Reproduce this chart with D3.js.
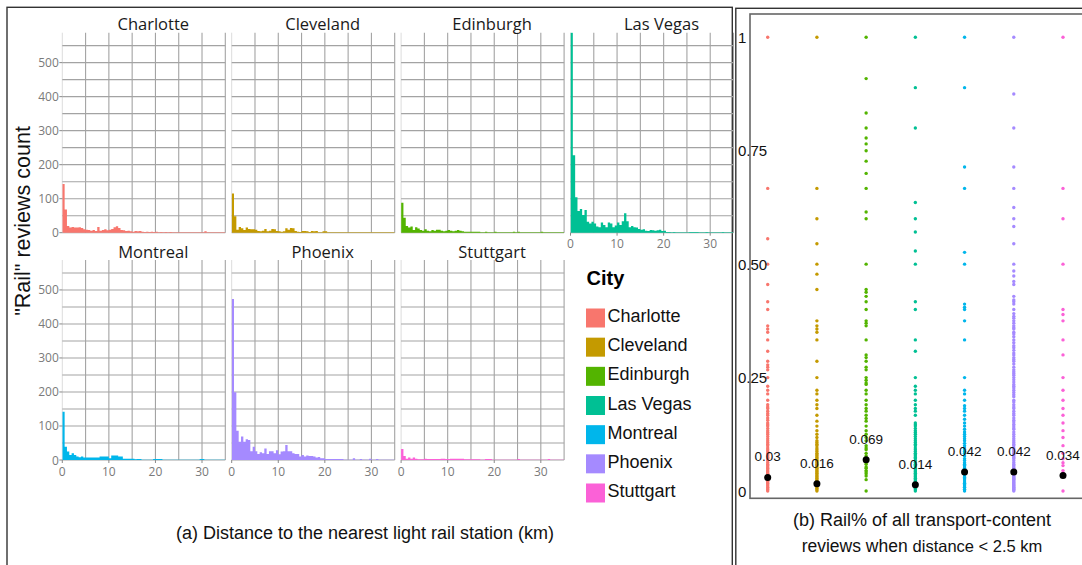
<!DOCTYPE html>
<html><head><meta charset="utf-8">
<script src="https://cdn.jsdelivr.net/npm/d3@7"></script>
<style>html,body{margin:0;padding:0;background:#fff;} svg{display:block;}</style>
</head><body>
<svg id="chart" width="1082" height="565"></svg>
<script>
// ---- data ----
const cities = ["Charlotte", "Cleveland", "Edinburgh", "Las Vegas", "Montreal", "Phoenix", "Stuttgart"];
const cityColors = ["#F8766D", "#C49A00", "#53B400", "#00C094", "#00B6EB", "#A58AFF", "#FB61D7"];

// "Rail" review counts in 0.5 km distance bins, 0–35 km
const binWidthKm = 0.5;
const countsCharlotte = [143, 68, 20, 15, 17, 15, 15, 16, 14, 10, 9, 8, 6, 8, 5, 17, 6, 8, 10, 7, 9, 11, 16, 19, 14, 8, 7, 5, 6, 4, 3, 5, 4, 5, 3, 2, 3, 2, 3, 2, 3, 1, 2, 1, 2, 1, 2, 1, 1, 1, 1, 1, 1, 1, 1, 1, 1, 1, 1, 1, 1, 4, 1, 1, 1, 1, 1, 1, 1, 1];
const countsCleveland = [115, 48, 9, 17, 13, 8, 15, 11, 10, 10, 9, 5, 4, 6, 11, 4, 6, 11, 10, 5, 4, 3, 4, 13, 9, 14, 13, 5, 3, 2, 5, 5, 4, 2, 5, 4, 5, 1, 1, 4, 4, 1, 1, 1, 1, 1, 1, 1, 1, 1, 1, 1, 1, 1, 1, 1, 1, 1, 1, 1, 1, 1, 1, 1, 1, 1, 1, 1, 1, 1];
const countsEdinburgh = [88, 44, 20, 15, 18, 8, 16, 12, 8, 6, 10, 6, 4, 8, 6, 9, 9, 6, 4, 6, 8, 6, 4, 6, 8, 6, 4, 3, 3, 3, 3, 3, 3, 3, 1, 1, 3, 1, 1, 1, 3, 1, 1, 1, 1, 1, 1, 1, 3, 1, 3, 1, 1, 1, 1, 1, 1, 1, 1, 1, 3, 1, 1, 1, 1, 1, 1, 1, 1, 1];
const countsLasVegas = [589, 228, 104, 64, 70, 52, 67, 32, 27, 32, 27, 18, 16, 30, 23, 16, 30, 27, 16, 21, 30, 23, 34, 57, 34, 16, 20, 16, 15, 11, 9, 10, 6, 5, 8, 7, 6, 7, 9, 5, 6, 2, 2, 1, 2, 1, 1, 1, 1, 1, 1, 2, 2, 2, 2, 1, 1, 1, 2, 1, 1, 1, 1, 1, 1, 2, 1, 1, 1, 1];
const countsMontreal = [142, 39, 25, 15, 20, 15, 10, 8, 10, 7, 7, 7, 7, 7, 7, 7, 10, 10, 10, 10, 5, 13, 13, 13, 10, 10, 4, 4, 4, 4, 4, 2, 3, 3, 1, 1, 1, 1, 1, 3, 3, 3, 3, 1, 1, 1, 1, 1, 1, 1, 1, 1, 1, 1, 1, 1, 1, 1, 1, 3, 3, 1, 1, 1, 1, 1, 1, 1, 1, 1];
const countsPhoenix = [473, 199, 86, 54, 69, 54, 61, 59, 26, 39, 26, 18, 23, 20, 34, 18, 26, 26, 20, 29, 17, 25, 26, 44, 26, 26, 20, 18, 18, 10, 15, 10, 13, 12, 12, 10, 7, 9, 5, 5, 3, 3, 3, 3, 3, 3, 3, 3, 1, 1, 1, 1, 5, 1, 1, 3, 1, 1, 1, 4, 1, 1, 3, 1, 1, 1, 1, 1, 1, 1];
const countsStuttgart = [32, 12, 4, 7, 4, 7, 4, 2, 2, 2, 4, 3, 3, 3, 3, 3, 3, 4, 4, 3, 3, 4, 4, 4, 4, 4, 4, 2, 2, 2, 2, 2, 2, 2, 1, 1, 3, 3, 3, 1, 1, 1, 1, 1, 1, 1, 1, 1, 1, 1, 3, 1, 1, 1, 1, 1, 1, 1, 1, 1, 1, 1, 1, 3, 1, 1, 1, 1, 1, 1];
const histCounts = [countsCharlotte, countsCleveland, countsEdinburgh, countsLasVegas, countsMontreal, countsPhoenix, countsStuttgart];
const histMaxKm = 35;
const histMaxCount = 588;
const histTicksY = [0, 100, 200, 300, 400, 500];
const histTicksX = [0, 10, 20, 30];

// Rail share of transport-content reviews per business (distance < 2.5 km)
const shareCharlotte = [1, 0.667, 0.556, 0.5, 0.455, 0.417, 0.4, 0.364, 0.357, 0.35, 0.333, 0.308, 0.286, 0.278, 0.273, 0.267, 0.25, 0.231, 0.222, 0.214, 0.2, 0.19, 0.185, 0.182, 0.176, 0.171, 0.167, 0.161, 0.156, 0.15, 0.146, 0.143, 0.138, 0.133, 0.129, 0.125, 0.12, 0.115, 0.111, 0.107, 0.103, 0.1, 0.095, 0.091, 0.087, 0.083, 0.08, 0.077, 0.074, 0.071, 0.067, 0.063, 0.059, 0.056, 0.053, 0.05, 0.047, 0.044, 0.042, 0.039, 0.036, 0.033, 0.031, 0.028, 0.025, 0.022, 0.02, 0.017, 0.014, 0.011, 0.008, 0.005, 0.003, 0];
const shareCleveland = [1, 0.667, 0.6, 0.545, 0.5, 0.478, 0.444, 0.375, 0.364, 0.357, 0.35, 0.333, 0.286, 0.25, 0.222, 0.214, 0.2, 0.19, 0.182, 0.167, 0.154, 0.143, 0.133, 0.125, 0.118, 0.111, 0.107, 0.103, 0.1, 0.095, 0.091, 0.087, 0.083, 0.08, 0.077, 0.074, 0.071, 0.068, 0.065, 0.062, 0.059, 0.056, 0.053, 0.05, 0.047, 0.044, 0.042, 0.039, 0.036, 0.033, 0.031, 0.028, 0.025, 0.022, 0.02, 0.017, 0.014, 0.011, 0.009, 0.006, 0.003, 0];
const shareEdinburgh = [1, 0.909, 0.833, 0.8, 0.778, 0.765, 0.75, 0.727, 0.7, 0.667, 0.615, 0.6, 0.5, 0.444, 0.438, 0.429, 0.417, 0.4, 0.375, 0.37, 0.364, 0.333, 0.3, 0.294, 0.286, 0.273, 0.267, 0.25, 0.244, 0.238, 0.235, 0.222, 0.214, 0.2, 0.19, 0.182, 0.176, 0.167, 0.16, 0.154, 0.143, 0.133, 0.125, 0.118, 0.111, 0.1, 0.095, 0.091, 0.083, 0.077, 0.071, 0.067, 0.0625, 0.059, 0.053, 0.05, 0.045, 0.042, 0.038, 0.033, 0.025, 0];
const shareLasVegas = [1, 0.889, 0.8, 0.636, 0.6, 0.571, 0.529, 0.5, 0.417, 0.4, 0.333, 0.308, 0.25, 0.231, 0.222, 0.214, 0.2, 0.19, 0.182, 0.176, 0.167, 0.15, 0.146, 0.143, 0.138, 0.133, 0.129, 0.125, 0.12, 0.115, 0.111, 0.107, 0.103, 0.1, 0.095, 0.091, 0.087, 0.083, 0.08, 0.077, 0.074, 0.071, 0.067, 0.063, 0.059, 0.056, 0.053, 0.05, 0.047, 0.044, 0.042, 0.039, 0.036, 0.033, 0.031, 0.028, 0.025, 0.022, 0.02, 0.017, 0.014, 0.011, 0.009, 0.006, 0.003, 0];
const shareMontreal = [1, 0.889, 0.714, 0.667, 0.526, 0.5, 0.412, 0.405, 0.4, 0.375, 0.333, 0.25, 0.222, 0.214, 0.2, 0.188, 0.182, 0.176, 0.167, 0.158, 0.15, 0.143, 0.136, 0.13, 0.125, 0.12, 0.115, 0.111, 0.105, 0.1, 0.095, 0.091, 0.087, 0.083, 0.077, 0.071, 0.067, 0.0625, 0.059, 0.056, 0.053, 0.05, 0.045, 0.04, 0.036, 0.033, 0.03, 0.027, 0.024, 0.02, 0.017, 0.014, 0.011, 0.008, 0.004, 0];
const sharePhoenix = [1, 0.875, 0.8, 0.714, 0.667, 0.625, 0.6, 0.583, 0.545, 0.5, 0.485, 0.474, 0.462, 0.455, 0.429, 0.421, 0.417, 0.412, 0.4, 0.391, 0.385, 0.381, 0.375, 0.37, 0.364, 0.36, 0.357, 0.35, 0.346, 0.34, 0.333, 0.327, 0.32, 0.316, 0.31, 0.304, 0.3, 0.294, 0.29, 0.286, 0.28, 0.273, 0.267, 0.263, 0.259, 0.255, 0.25, 0.245, 0.24, 0.235, 0.231, 0.227, 0.222, 0.217, 0.212, 0.208, 0.2, 0.196, 0.19, 0.185, 0.182, 0.176, 0.171, 0.167, 0.161, 0.156, 0.152, 0.147, 0.143, 0.139, 0.136, 0.13, 0.125, 0.12, 0.115, 0.111, 0.107, 0.103, 0.1, 0.095, 0.091, 0.087, 0.083, 0.08, 0.077, 0.074, 0.071, 0.067, 0.063, 0.059, 0.056, 0.053, 0.05, 0.048, 0.045, 0.043, 0.04, 0.037, 0.034, 0.032, 0.03, 0.028, 0.026, 0.024, 0.022, 0.02, 0.018, 0.016, 0.014, 0.012, 0.01, 0.008, 0.006, 0.004, 0.002, 0];
const shareStuttgart = [1, 0.667, 0.6, 0.5, 0.4, 0.389, 0.375, 0.333, 0.3, 0.25, 0.222, 0.2, 0.182, 0.167, 0.15, 0.133, 0.118, 0.1, 0.083, 0.071, 0.0625, 0.056, 0.045, 0.04, 0];
const shareValues = [shareCharlotte, shareCleveland, shareEdinburgh, shareLasVegas, shareMontreal, sharePhoenix, shareStuttgart];
const shareMeans = [0.03, 0.016, 0.069, 0.014, 0.042, 0.042, 0.034];
const shareMeanLabels = ["0.03", "0.016", "0.069", "0.014", "0.042", "0.042", "0.034"];
const shareTicks = [0, 0.25, 0.5, 0.75, 1];
const shareTickLabels = ["0", "0.25", "0.50", "0.75", "1"];

// ---- drawing ----
const svg = d3.select("#chart");
const sansUI = "'Open Sans', 'Noto Sans', sans-serif";
const arial = "'Liberation Sans', Arial, sans-serif";

// outer frames of the two sub-figures
svg.append("rect").attr("x", 7).attr("y", 7.3).attr("width", 725.3).attr("height", 600)
  .attr("fill", "none").attr("stroke", "#333").attr("stroke-width", 1.4);
svg.append("rect").attr("x", 735.8).attr("y", 8.3).attr("width", 400).attr("height", 600)
  .attr("fill", "none").attr("stroke", "#333").attr("stroke-width", 1.4);

// ---------- (a) faceted histograms ----------
const facet = { left: 62.3, width: 163, colStep: 169.4, zero0: 232.7, rowStep: 227.3, height: 200, cols: 4 };
const gridColor = "#a3a3a3";
const tickTextColor = "#7a7a7a";

const defs = svg.append("defs");

cities.forEach((city, i) => {
  const col = i % facet.cols, row = Math.floor(i / facet.cols);
  const x0 = facet.left + col * facet.colStep;
  const zeroY = facet.zero0 + row * facet.rowStep;
  const x = d3.scaleLinear().domain([0, histMaxKm]).range([x0, x0 + facet.width]);
  const y = d3.scaleLinear().domain([0, histMaxCount]).range([zeroY, zeroY - facet.height]);
  const g = svg.append("g").attr("class", "facet");

  // grid
  g.append("line").attr("x1", x(0)).attr("x2", x(0)).attr("y1", y(histMaxCount)).attr("y2", y(0))
    .attr("stroke", "#dcdcdc").attr("stroke-width", 1);
  g.selectAll("line.vg").data(d3.range(5, histMaxKm + 0.1, 5)).join("line").attr("class", "vg")
    .attr("x1", d => x(d)).attr("x2", d => x(d)).attr("y1", y(histMaxCount)).attr("y2", y(0))
    .attr("stroke", gridColor).attr("stroke-width", 1.1);
  g.selectAll("line.hg").data(d3.range(0, 551, 50)).join("line").attr("class", "hg")
    .attr("x1", x(0)).attr("x2", x(histMaxKm)).attr("y1", d => y(d)).attr("y2", d => y(d))
    .attr("stroke", gridColor).attr("stroke-width", 1.1);

  // histogram bars as one stepped shape (bin k covers [k*w, (k+1)*w))
  const counts = histCounts[i];
  const steps = counts.map((c, k) => ({ km: k * binWidthKm, c }));
  steps.push({ km: counts.length * binWidthKm, c: counts[counts.length - 1] });
  const area = d3.area().curve(d3.curveStepAfter)
    .x(d => x(d.km)).y0(y(0)).y1(d => y(d.c));
  const clipId = "clip" + i;
  defs.append("clipPath").attr("id", clipId).append("rect")
    .attr("x", x(0)).attr("y", y(histMaxCount)).attr("width", facet.width).attr("height", facet.height + 1);
  g.append("path").attr("clip-path", `url(#${clipId})`)
    .attr("d", area(steps)).attr("fill", cityColors[i]);

  // strip title
  g.append("text").attr("x", x0 + facet.width / 2 + 9.5).attr("y", y(histMaxCount) - 9)
    .attr("text-anchor", "middle").attr("dominant-baseline", "central")
    .attr("font-family", sansUI).attr("font-size", 16.5).attr("fill", "#1a1a1a").text(city);

  // y axis (first column only)
  if (col === 0) {
    const ya = g.append("g").attr("class", "yaxis");
    ya.selectAll("line").data(histTicksY).join("line")
      .attr("x1", x0 - 3).attr("x2", x0).attr("y1", d => y(d)).attr("y2", d => y(d))
      .attr("stroke", "#888").attr("stroke-width", 1);
    ya.selectAll("text").data(histTicksY).join("text")
      .attr("x", x0 - 3.5).attr("y", d => y(d)).attr("text-anchor", "end").attr("dominant-baseline", "central")
      .attr("font-family", sansUI).attr("font-size", 12).attr("fill", tickTextColor).text(d => d);
  }
  // x axis on panels with nothing below
  if (i + facet.cols >= cities.length) {
    const xa = g.append("g").attr("class", "xaxis");
    xa.selectAll("line").data(histTicksX).join("line")
      .attr("x1", d => x(d)).attr("x2", d => x(d)).attr("y1", y(0)).attr("y2", y(0) + 3)
      .attr("stroke", "#888").attr("stroke-width", 1);
    xa.selectAll("text").data(histTicksX).join("text")
      .attr("x", d => x(d)).attr("y", y(0) + 11).attr("text-anchor", "middle").attr("dominant-baseline", "central")
      .attr("font-family", sansUI).attr("font-size", 12).attr("fill", tickTextColor).text(d => d);
  }
});

// axis titles of (a)
svg.append("text").attr("transform", "translate(23,221) rotate(-90)")
  .attr("text-anchor", "middle").attr("dominant-baseline", "central")
  .attr("font-family", arial).attr("font-size", 21.5).attr("fill", "#111").text('"Rail" reviews count');
svg.append("text").attr("x", 365).attr("y", 533).attr("text-anchor", "middle").attr("dominant-baseline", "central")
  .attr("font-family", arial).attr("font-size", 18).attr("fill", "#111")
  .text("(a) Distance to the nearest light rail station (km)");

// legend
const legend = svg.append("g").attr("class", "legend");
legend.append("text").attr("x", 586.5).attr("y", 285).attr("font-family", arial)
  .attr("font-weight", "bold").attr("font-size", 20).attr("fill", "#000").text("City");
const legendY = d3.scalePoint().domain(cities).range([318, 493]);
legend.selectAll("rect").data(cities).join("rect")
  .attr("x", 586).attr("y", d => legendY(d) - 9.5).attr("width", 19).attr("height", 19)
  .attr("fill", (d, i) => cityColors[i]);
legend.selectAll("text.item").data(cities).join("text").attr("class", "item")
  .attr("x", 607.5).attr("y", d => legendY(d) - 2).attr("dominant-baseline", "central")
  .attr("font-family", arial).attr("font-size", 18).attr("fill", "#111").text(d => d);

// ---------- (b) strip plot of rail share ----------
const plotB = { left: 750, top: 14, bottom: 498.3 };
const yB = d3.scaleLinear().domain([0, 1]).range([491, 37.3]);
const xB = d3.scalePoint().domain(cities).range([767.7, 1063]);

svg.append("rect").attr("x", plotB.left).attr("y", plotB.top).attr("width", 400).attr("height", plotB.bottom - plotB.top)
  .attr("fill", "none").attr("stroke", "#666").attr("stroke-width", 1.6);

const gb = svg.append("g").attr("class", "strip");
cities.forEach((city, i) => {
  gb.append("g").selectAll("circle").data(shareValues[i]).join("circle")
    .attr("cx", xB(city)).attr("cy", d => yB(d)).attr("r", 1.7)
    .attr("fill", cityColors[i]);
});
gb.append("g").selectAll("circle").data(shareMeans).join("circle")
  .attr("cx", (d, i) => xB(cities[i])).attr("cy", d => yB(d)).attr("r", 3.5).attr("fill", "#000");
gb.append("g").selectAll("text").data(shareMeans).join("text")
  .attr("x", (d, i) => xB(cities[i])).attr("y", d => yB(d + 0.045))
  .attr("text-anchor", "middle").attr("dominant-baseline", "central")
  .attr("font-family", arial).attr("font-size", 13.5).attr("fill", "#111")
  .text((d, i) => shareMeanLabels[i]);

svg.append("g").selectAll("text").data(shareTicks).join("text")
  .attr("x", 738).attr("y", d => yB(d)).attr("dominant-baseline", "central")
  .attr("font-family", arial).attr("font-size", 15).attr("fill", "#111")
  .text((d, i) => shareTickLabels[i]);

const capB = svg.append("text").attr("text-anchor", "middle").attr("font-family", arial).attr("fill", "#111");
capB.append("tspan").attr("x", 922).attr("y", 526).attr("font-size", 18).text("(b) Rail% of all transport-content");
const capB2 = capB.append("tspan").attr("x", 922).attr("y", 552);
capB2.append("tspan").attr("font-size", 17.5).text("reviews when ");
capB2.append("tspan").attr("font-size", 16.5).text("distance < 2.5 km");
</script>
</body></html>
